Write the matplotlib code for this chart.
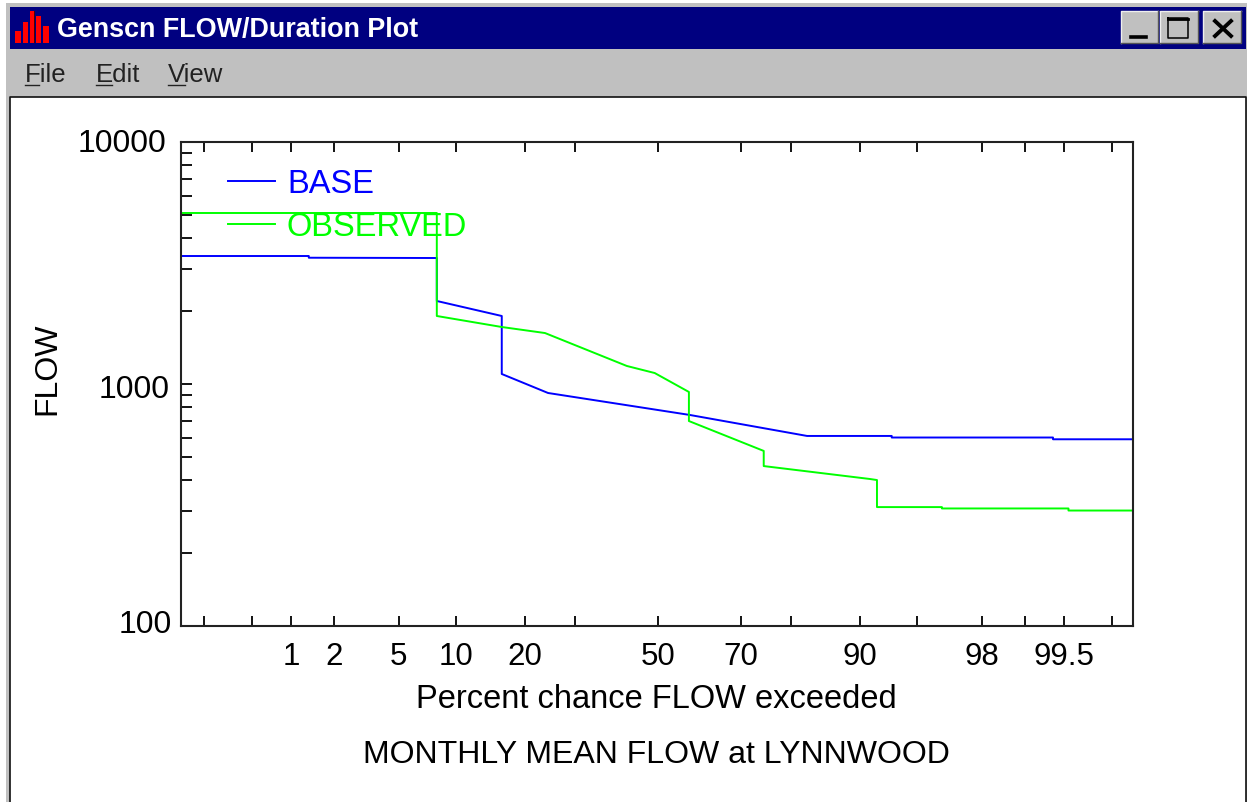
import numpy as np
import matplotlib
matplotlib.use('Agg')
import matplotlib.pyplot as plt
import matplotlib.ticker as mticker
from matplotlib.patches import Rectangle
from matplotlib.transforms import ScaledTranslation
from statistics import NormalDist

plt.rcParams['font.family'] = ['Liberation Sans', 'DejaVu Sans']

# Percent chance exceeded / flow
base_pct = [0.123, 1.34, 1.34, 8.04, 8.04, 16.1, 16.1, 24.3, 58.0, 82.8, 93.1, 93.1, 99.39, 99.39, 99.871]
base_flow = [3380, 3380, 3325, 3316, 2203, 1910, 1100, 918, 745, 610, 610, 601, 601, 591, 591]
obs_pct = [0.123, 8.04, 8.04, 16.1, 23.7, 42.2, 49.2, 57.8, 57.8, 74.9, 74.9, 91.07, 91.77, 91.77, 96.42, 96.42, 99.54, 99.54, 99.871]
obs_flow = [5089, 5089, 1910, 1720, 1624, 1187, 1110, 927, 703, 529, 458, 405, 401, 310, 310, 306, 306, 300, 300]

x_ticks = [0.2, 0.5, 1, 2, 5, 10, 20, 30, 50, 70, 80, 90, 95, 98, 99, 99.5, 99.8]
x_labels = ['', '', '1', '2', '5', '10', '20', '', '50', '70', '', '90', '', '98', '', '99.5', '']
y_ticks = [100, 1000, 10000]
y_labels = ['100', '1000', '10000']

W, H = 1247, 803
norm = NormalDist()
inv_cdf = np.vectorize(lambda p: norm.inv_cdf(min(max(p, 1e-6), 100 - 1e-6) / 100), otypes=[float])
cdf = np.vectorize(lambda z: norm.cdf(z) * 100, otypes=[float])

fig = plt.figure(figsize=(W / 100, H / 100), dpi=100, facecolor='white')

# Window frame, drawn in pixel coordinates
win = fig.add_axes([0, 0, 1, 1], zorder=0)
win.set_xlim(0, W)
win.set_ylim(H, 0)
win.axis('off')


def box(x0, y0, x1, y1, color, **kw):
    win.add_patch(Rectangle((x0, y0), x1 - x0, y1 - y0, facecolor=color, edgecolor='none', **kw))


box(6, 4, W, H, '#c0c0c0')
box(10, 8, 1246, 50, '#000080')
box(10, 98, 1246, H, 'white')
win.plot([10, 10, 1246, 1246], [H, 98, 98, H], color='#111111', lw=1.2)

# Title bar icon
for x0, x1, top in [(15, 21, 32), (23, 28, 23), (30, 34, 12), (36, 41, 17), (43, 49, 27)]:
    box(x0, top, x1, 44, '#ff0000')
box(34, 12, 35, 44, '#500000')
win.text(57, 30, 'Genscn FLOW/Duration Plot', color='white', fontsize=19.4, fontweight='bold', va='center', ha='left')

# Title bar buttons
for x0, x1 in [(1121, 1158), (1160, 1198), (1203, 1241)]:
    box(x0, 12, x1, 44, '#c0c0c0')
    win.plot([x0, x0, x1], [44, 12, 12], color='#eeeeee', lw=1)
    win.plot([x0, x1, x1], [44, 44, 12], color='#555555', lw=1)
win.plot([1131, 1146], [37.5, 37.5], color='black', lw=2.6)
win.plot([1168, 1188, 1188, 1168, 1168], [19, 19, 39, 39, 19], color='black', lw=1.1)
win.plot([1168, 1188], [20, 20], color='black', lw=2)
win.plot([1215, 1231], [22, 37], color='black', lw=2.8)
win.plot([1215, 1231], [37, 22], color='black', lw=2.8)

# Menu
for label, x0, x1 in [('File', 25, 39), ('Edit', 96, 112), ('View', 168, 185)]:
    win.text(x0, 75, label, color='#222222', fontsize=18.5, va='center', ha='left')
    win.plot([x0, x1], [86, 86], color='#222222', lw=1)

# Plot
ax = fig.add_axes([180.5 / W, 1 - 627 / H, (1133 - 180.5) / W, (627 - 143) / H], zorder=1)
ax.set_xscale('function', functions=(inv_cdf, cdf))
ax.set_yscale('log')
ax.plot(base_pct, base_flow, color='#0000ff', lw=1.4, label='BASE')
ax.plot(obs_pct, obs_flow, color='#00ff00', lw=1.4, label='OBSERVED')
ax.set_xlim(0.123, 99.871)
ax.set_ylim(100, 10000)

ax.set_xticks(x_ticks)
ax.set_xticklabels(x_labels)
ax.xaxis.set_minor_locator(mticker.NullLocator())
ax.set_yticks(y_ticks)
ax.set_yticklabels(y_labels)
ax.yaxis.set_minor_locator(mticker.LogLocator(base=10, subs=range(2, 10)))
ax.yaxis.set_minor_formatter(mticker.NullFormatter())

ax.tick_params(axis='x', which='major', direction='in', top=True, length=7.5, width=1.3, pad=11, labelsize=22.5)
ax.tick_params(axis='y', which='both', direction='in', length=8, width=1.3, pad=8, labelsize=23)
for s in ax.spines.values():
    s.set_linewidth(1.5)
    s.set_color('#222222')

# y labels sit a little off their ticks in the original
for lbl, (dx, dy) in zip(ax.get_yticklabels(), [(2, 5), (0, -1), (-3, 3)]):
    lbl.set_transform(lbl.get_transform() + ScaledTranslation(dx / 100, dy / 100, fig.dpi_scale_trans))

fig.text(656 / W, 1 - 700 / H, 'Percent chance FLOW exceeded', fontsize=23.5, ha='center', va='center')
fig.text(656 / W, 1 - 755 / H, 'MONTHLY MEAN FLOW at LYNNWOOD', fontsize=23, ha='center', va='center')
fig.text(47 / W, 1 - 369 / H, 'FLOW', fontsize=23, rotation=90, ha='center', va='center')

ax.legend(loc='upper left', bbox_to_anchor=(47 / 952.5, 1 - 26 / 484), frameon=False, fontsize=23.5,
          labelcolor='linecolor', handlelength=1.45, handletextpad=0.37, labelspacing=0.38,
          borderpad=0, borderaxespad=0)

fig.savefig('out.png', dpi=100)
